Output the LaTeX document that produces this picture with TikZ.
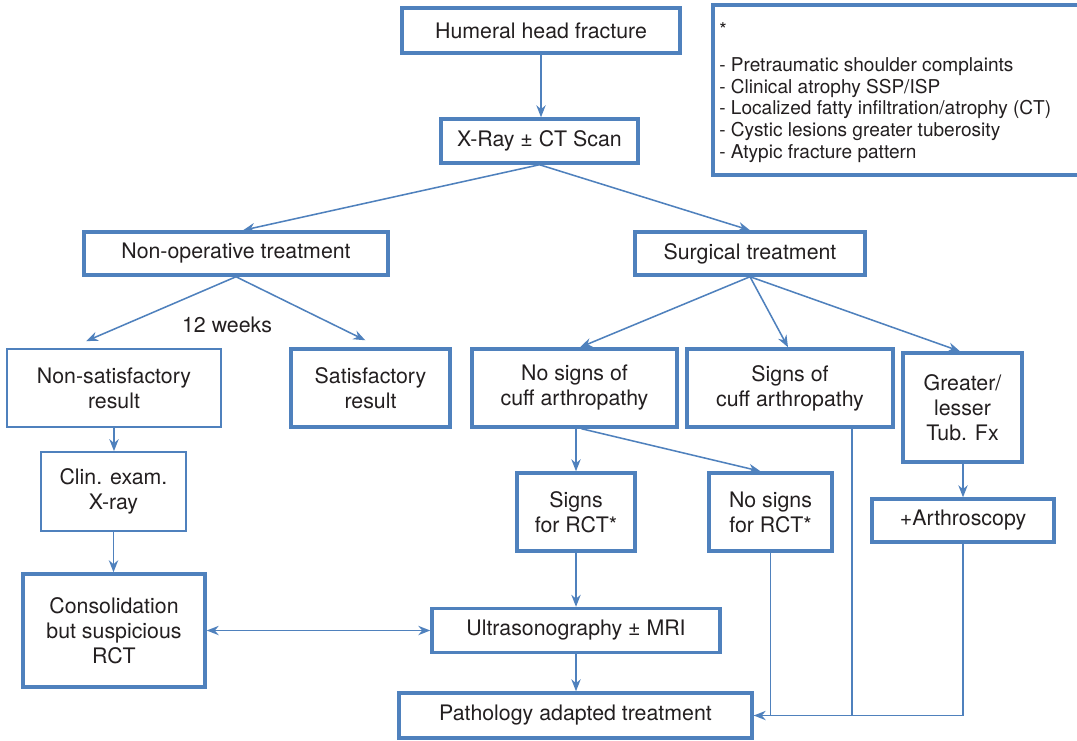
\documentclass[tikz,border=0pt]{standalone}
\usepackage{fontspec}
\setmainfont{TeX Gyre Heros}
\usetikzlibrary{arrows.meta,calc}
\definecolor{bl}{RGB}{79,129,189}
\definecolor{tx}{RGB}{35,31,32}
\begin{document}
\begin{tikzpicture}[x=0.75pt,y=-0.75pt,
  box/.style={draw=bl, line width=2.6pt, fill=white, text=tx, align=center, inner sep=0pt, font=\fontsize{16}{18.75}\selectfont},
  thinbox/.style={box, line width=1.3pt},
  arr/.style={draw=bl, line width=1.15pt, -{Stealth[length=9pt,width=7pt]}},
  darr/.style={draw=bl, line width=1.15pt, {Stealth[length=9pt,width=7pt]}-{Stealth[length=9pt,width=7pt]}},
  ln/.style={draw=bl, line width=1.15pt},
  lbl/.style={text=tx, inner sep=0pt, font=\fontsize{16}{18.75}\selectfont},
  notetxt/.style={text=tx, inner sep=0pt, align=left, font=\fontsize{14.3}{16.3}\selectfont}]
\useasboundingbox (0,0) rectangle (1077,740);
\fill[white] (0,0) rectangle (1077,740);

% boxes
\node[box, minimum width=208.5pt, minimum height=33.75pt] (hum) at (541,30.5) {Humeral head fracture};
\node[box, minimum width=147.75pt, minimum height=33pt] (xray) at (539.5,141) {X-Ray ± CT Scan};
\node[box, minimum width=275.25pt, minimum height=127.5pt] (note) at (896.5,90) {};
\node[notetxt, anchor=west] (notetext) at (719,92.5) {*\\[10pt]
- Pretraumatic shoulder complaints\\
- Clinical atrophy SSP/ISP\\
- Localized fatty infiltration/atrophy (CT)\\
- Cystic lesions greater tuberosity\\
- Atypic fracture pattern};
\node[box, minimum width=228pt, minimum height=32.25pt] (nonop) at (236,253.5) {Non-operative treatment};
\node[box, minimum width=172.5pt, minimum height=32.25pt] (surg) at (750,253.5) {Surgical treatment};
\node[lbl] (weeks) at (227,325) {12 weeks};
\node[thinbox, minimum width=160.5pt, minimum height=58.5pt] (nonsat) at (114,388) {Non-satisfactory\\result};
\node[box, minimum width=119.25pt, minimum height=58.5pt] (sat) at (370.5,388) {Satisfactory\\result};
\node[box, minimum width=153.75pt, minimum height=58.5pt] (nocuff) at (574.5,388) {No signs of\\cuff arthropathy};
\node[box, minimum width=154.5pt, minimum height=58.5pt] (cuff) at (790,388) {Signs of\\cuff arthropathy};
\node[box, minimum width=89.25pt, minimum height=81.75pt] (gl) at (962.5,407.5) {Greater/\\lesser\\Tub. Fx};
\node[thinbox, minimum width=108.75pt, minimum height=59.25pt] (clin) at (113.5,491.5) {Clin. exam.\\X-ray};
\node[box, minimum width=88.5pt, minimum height=58.5pt] (srct) at (576,512) {Signs\\for RCT*};
\node[box, minimum width=92.25pt, minimum height=58.5pt] (nsrct) at (770.5,512) {No signs\\for RCT*};
\node[box, minimum width=136.5pt, minimum height=32.25pt] (arth) at (963,520.5) {+Arthroscopy};
\node[box, minimum width=136.5pt, minimum height=84.75pt] (cons) at (114,630.5) {Consolidation\\but suspicious\\RCT};
\node[box, minimum width=216pt, minimum height=33pt] (ultra) at (576,630.5) {Ultrasonography ± MRI};
\node[box, minimum width=264.75pt, minimum height=33.75pt] (path) at (575.5,715.5) {Pathology adapted treatment};

% connectors
\draw[arr] (hum.south) -- (hum.south |- xray.north);
\draw[arr] (xray.south) -- ($(nonop.north)+(7,0)$);
\draw[arr] (xray.south) -- (surg.north);
\draw[arr] (nonop.south) -- ($(nonsat.north west)+(80,-7)$);
\draw[arr] (nonop.south) -- ($(sat.north west)+(76,-7)$);
\draw[arr] (surg.south) -- ($(nocuff.north)+(5.5,0)$);
\draw[arr] (surg.south) -- ($(cuff.north)+(-2,0)$);
\draw[arr] (surg.south) -- ($(gl.north)+(-2.5,0)$);
\draw[arr] (nonsat.south) -- (nonsat.south |- clin.north);
\draw[arr] (clin.south) -- (clin.south |- cons.north);
\draw[darr] (cons.east) -- (cons.east -| ultra.west);
\draw[arr] (nocuff.south -| srct.north) -- (srct.north);
\draw[arr] ($(nocuff.south)+(7,0)$) -- ($(nsrct.north)+(-10,0)$);
\draw[arr] (srct.south) -- (ultra.north);
\draw[arr] (ultra.south) -- (ultra.south |- path.north);
\draw[ln] (nsrct.south) |- (path.east);
\draw[ln] ($(cuff.south)+(62,0)$) |- (path.east);
\draw[arr] (arth.south) |- (path.east);
\draw[arr] (gl.south -| arth.north) -- (arth.north);
\end{tikzpicture}
\end{document}
